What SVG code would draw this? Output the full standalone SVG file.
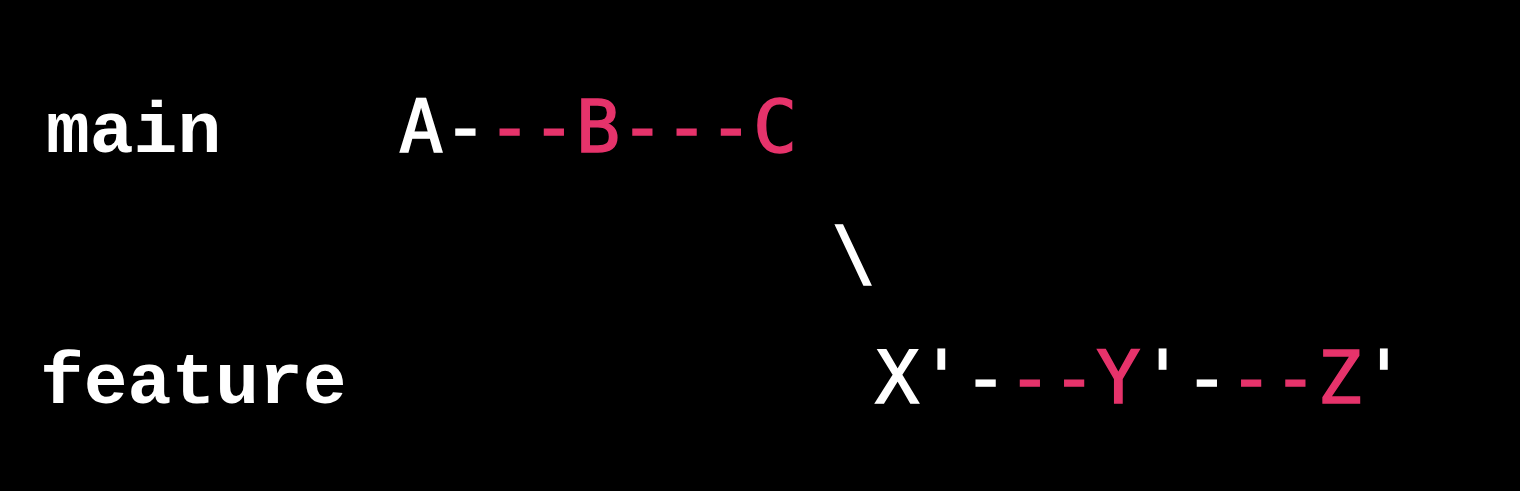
<svg xmlns="http://www.w3.org/2000/svg" width="1520" height="491" viewBox="0 0 1520 491">
<style>
.lbl{font-family:"Liberation Mono","Courier New",monospace;font-weight:bold;font-size:73px;fill:#ffffff}
.g{font-family:"DejaVu Sans Mono","Liberation Mono",monospace;font-size:73.5px;fill:#ffffff;stroke:#ffffff;stroke-width:1.5}
.p{fill:#e6336b;stroke:#e6336b}
</style>
<rect width="1520" height="491" fill="#000000"/>
<g id="labels">
<text class="lbl" x="46" y="152">main</text>
<text class="lbl" x="40" y="403">feature</text>
</g>
<g id="main-line">
<text class="g" x="399" y="152" xml:space="preserve">A-<tspan class="p">--B---C</tspan></text>
</g>
<g id="connectors">
<text class="g" x="832" y="278">\</text>
</g>
<g id="feature-line">
<text class="g" x="875" y="403" xml:space="preserve">X'-<tspan class="p">--Y</tspan>'-<tspan class="p">--Z</tspan>'</text>
</g>
</svg>
